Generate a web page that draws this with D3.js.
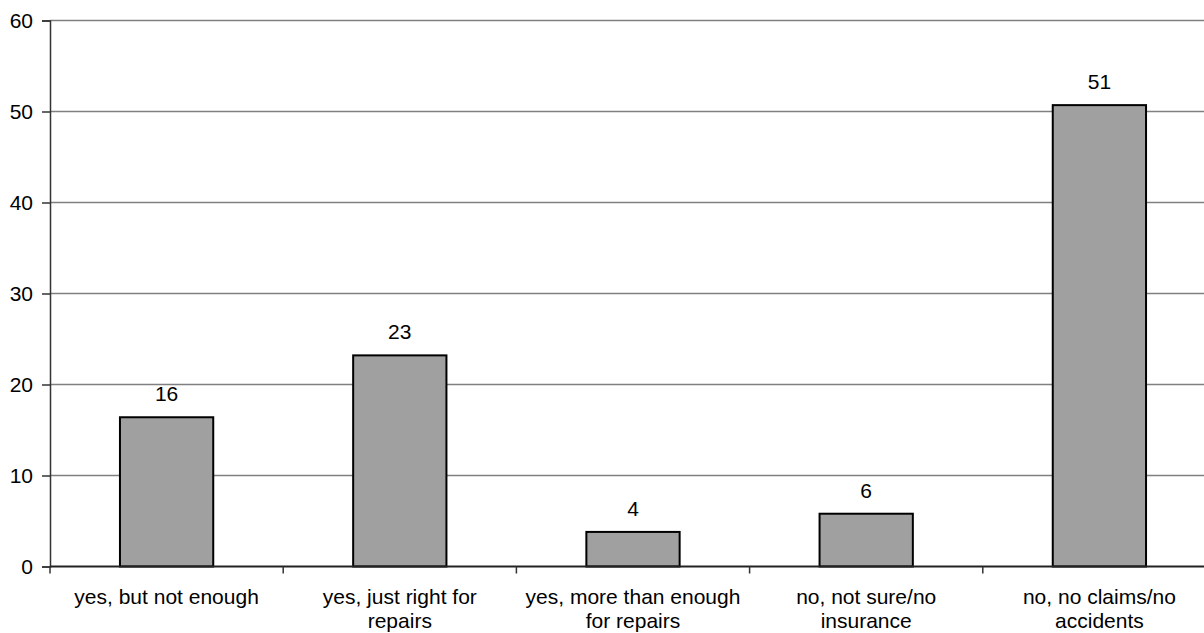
<!DOCTYPE html>
<html>
<head>
<meta charset="utf-8">
<script src="https://cdn.jsdelivr.net/npm/d3@7"></script>
<style>
html,body{margin:0;padding:0;background:#fff;}
svg{display:block;font-family:"Liberation Sans",Arial,sans-serif;}
</style>
</head>
<body>
<svg id="chart" width="1204" height="633"></svg>
<script>
const categories = [
  ["yes, but not enough"],
  ["yes, just right for", "repairs"],
  ["yes, more than enough", "for repairs"],
  ["no, not sure/no", "insurance"],
  ["no, no claims/no", "accidents"]
];
const values = [16.4, 23.2, 3.8, 5.8, 50.7];
const valueLabels = ["16", "23", "4", "6", "51"];
const yTicks = [0, 10, 20, 30, 40, 50, 60];

(function() {
const svg = d3.select("#chart");
const mLeft = 50, mRight = 1216, mTop = 20.5, mBottom = 566.5;
const fs = 21;

const x = d3.scaleBand().domain(d3.range(categories.length)).range([mLeft, mRight]).paddingInner(0.6).paddingOuter(0.3);
const y = d3.scaleLinear().domain([0, 60]).range([mBottom, mTop]);

// gridlines
svg.append("g").selectAll("line").data(yTicks.filter(d => d > 0)).join("line")
  .attr("x1", mLeft).attr("x2", mRight)
  .attr("y1", d => y(d)).attr("y2", d => y(d))
  .attr("stroke", "#808080").attr("stroke-width", 1.5);

// bars
svg.append("g").selectAll("rect").data(values).join("rect")
  .attr("x", (d, i) => x(i)).attr("width", x.bandwidth())
  .attr("y", d => y(d)).attr("height", d => y(0) - y(d))
  .attr("fill", "#a0a0a0").attr("stroke", "#000").attr("stroke-width", 2);

// value labels
svg.append("g").selectAll("text").data(values).join("text")
  .attr("x", (d, i) => x(i) + x.bandwidth() / 2)
  .attr("y", d => y(d) - 16)
  .attr("text-anchor", "middle").attr("font-size", fs).attr("fill", "#000")
  .text((d, i) => valueLabels[i]);

// y axis
const yAxis = d3.axisLeft(y).tickValues(yTicks).tickSize(8).tickPadding(9);
const gy = svg.append("g").attr("transform", `translate(${mLeft},0)`).call(yAxis);
gy.select(".domain").attr("stroke", "#333").attr("stroke-width", 1.5);
gy.selectAll(".tick line").attr("stroke", "#333").attr("stroke-width", 1.5);
gy.selectAll(".tick text").attr("font-size", fs).attr("fill", "#000").attr("font-family", "Liberation Sans, Arial, sans-serif");

// x axis
const step = x.step();
const boundaries = d3.range(categories.length + 1).map(i => mLeft + i * step);
svg.append("line").attr("x1", mLeft).attr("x2", mRight).attr("y1", mBottom).attr("y2", mBottom)
  .attr("stroke", "#222").attr("stroke-width", 2);
svg.append("g").selectAll("line").data(boundaries).join("line")
  .attr("x1", d => d).attr("x2", d => d).attr("y1", mBottom).attr("y2", mBottom + 7)
  .attr("stroke", "#333").attr("stroke-width", 1.5);

// x labels
const xl = svg.append("g").selectAll("text").data(categories).join("text")
  .attr("x", (d, i) => x(i) + x.bandwidth() / 2)
  .attr("y", 604)
  .attr("text-anchor", "middle").attr("font-size", fs).attr("fill", "#000");
xl.selectAll("tspan").data(d => d).join("tspan")
  .attr("x", function() { return d3.select(this.parentNode).attr("x"); })
  .attr("dy", (d, i) => i === 0 ? 0 : 24)
  .text(d => d);
})();
</script>
</body>
</html>
